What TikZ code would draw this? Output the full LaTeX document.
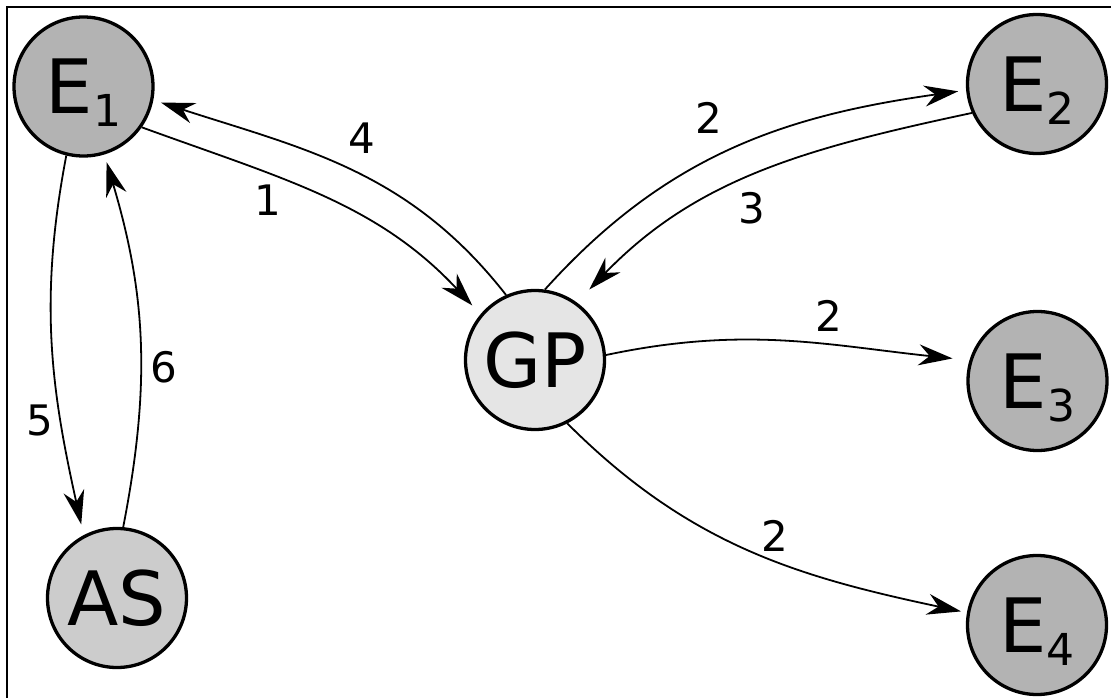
\documentclass[tikz,border=0pt]{standalone}
\usepackage{fontspec}
\setmainfont{DejaVu Sans}
\usetikzlibrary{arrows.meta}

\definecolor{entityfill}{HTML}{B3B3B3}
\definecolor{asfill}{HTML}{CCCCCC}
\definecolor{gpfill}{HTML}{E5E5E5}

% subscript index set next to a big capital
\newcommand{\idxsub}[1]{\raisebox{-13pt}{\fontsize{44}{44}\selectfont #1}}

\tikzset{
  party/.style={circle, draw=black, line width=3.3pt, minimum size=139pt,
    inner sep=0pt, text depth=0pt, font=\fontsize{75}{75}\selectfont},
  entity/.style={party, fill=entityfill},
  msg/.style={line width=1.8pt,
    -{Stealth[length=34pt, width=21pt, inset=11pt]}},
  steplabel/.style={inner sep=0pt, font=\fontsize{42}{42}\selectfont},
}

\begin{document}
\begin{tikzpicture}[x=1pt, y=-1pt]
  \useasboundingbox (0,0) rectangle (1111,698);
  \clip (0,0) rectangle (1111,698);
  \fill[white] (0,0) rectangle (1111,698);
  % open frame running off the page
  \draw[line width=2pt] (6.7,720) -- (6.7,6.7) -- (1130,6.7);

  % parties
  \node[entity] (E1) at (83.5,86.5) {E\idxsub{1}};
  \node[entity] (E2) at (1037,84) {E\idxsub{2}};
  \node[entity] (E3) at (1037.5,381) {E\idxsub{3}};
  \node[entity] (E4) at (1037,625) {E\idxsub{4}};
  \node[party, fill=gpfill] (GP) at (535,360) {GP};
  \node[party, fill=asfill] (AS) at (117,598) {AS};

  % message flow
  \draw[msg, shorten >=12pt] (E1.-35) to[out=-20, in=133] (GP.140.8);
  \draw[msg, shorten >=8pt] (GP.114.6) to[out=128, in=-18] (E1.-11.9);
  \draw[msg, shorten >=8pt] (GP.82) to[out=48, in=188] (E2.-175.7);
  \draw[msg, shorten >=18pt] (E2.-156.6) to[out=-168, in=46] (GP.54.5);
  \draw[msg, shorten >=17pt] (GP.4) to[out=12, in=174] (E3.163);
  \draw[msg, shorten >=6pt] (GP.-63) to[out=-45, in=168] (E4.170.4);
  \draw[msg, shorten >=11pt] (E1.-104.5) to[out=-100.8, in=102.5] (AS.118);
  \draw[msg, shorten >=8pt] (AS.85) to[out=79, in=-73.4] (E1.-73);

  % step numbers
  \node[steplabel] (s1) at (268,200) {1};
  \node[steplabel] (s4) at (362,138) {4};
  \node[steplabel] (s2a) at (709,118) {2};
  \node[steplabel] (s3) at (752,208) {3};
  \node[steplabel] (s2b) at (829,316) {2};
  \node[steplabel] (s2c) at (775,536) {2};
  \node[steplabel] (s5) at (40,420) {5};
  \node[steplabel] (s6) at (164,367) {6};
\end{tikzpicture}
\end{document}
